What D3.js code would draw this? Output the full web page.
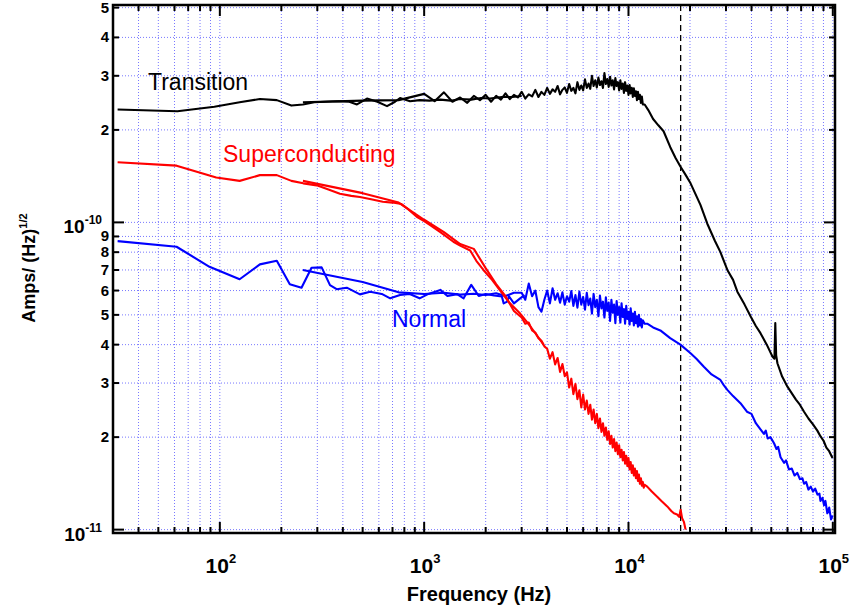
<!DOCTYPE html>
<html>
<head>
<meta charset="utf-8">
<script src="https://cdn.jsdelivr.net/npm/d3@7"></script>
<style>
  body { margin: 0; background: #fff; }
  text { font-family: "Liberation Sans", Arial, sans-serif; }
</style>
</head>
<body>
<svg id="chart" width="851" height="611"></svg>
<script>
// amplitude noise spectra, [frequency Hz, amplitude in 1e-10 A/rtHz]
var transitionLow = [[31.6,2.33],[62,2.30],[94,2.38],[125,2.46],[157,2.52],[190,2.50],[224,2.40],[255,2.42],
  [290,2.46],[330,2.47],[380,2.48],[430,2.47],[469,2.42],[525,2.53],[590,2.47],[658,2.39],[720,2.47],[762,2.54],
  [853,2.48],[950,2.50],[1060,2.49],[1200,2.51],[1350,2.49],[1500,2.52],[1700,2.51],[1900,2.54],[2100,2.53],
  [2400,2.56],[2700,2.56],[3000,2.58]];

var transitionHigh = [[255,2.46],[500,2.49],[750,2.50],[1000,2.62],[1125,2.48],[1250,2.65],[1375,2.47],[1500,2.55],
  [1625,2.45],[1750,2.58],[1875,2.50],[2000,2.60],[2125,2.47],[2250,2.58],[2375,2.51],
  [2500,2.63],[2625,2.52],[2750,2.60],[2875,2.55],[3000,2.66],[3125,2.53],[3250,2.61],[3375,2.57],[3500,2.70],
  [3625,2.56],[3750,2.66],[3875,2.60],
  [4000,2.74],[4125,2.62],[4250,2.71],[4375,2.66],[4500,2.78],[4625,2.61],[4750,2.70],[4875,2.75],[5000,2.64],
  [5125,2.82],[5250,2.68],[5375,2.74],[5500,2.63],[5625,2.86],[5750,2.70],[5875,2.79],[6000,2.69],[6125,2.92],
  [6250,2.74],[6375,2.83],[6500,2.72],[6625,3.00],[6750,2.78],[6875,2.90],[7000,2.75],[7125,2.96],[7250,2.80],
  [7375,2.88],[7500,2.74],[7625,3.06],[7750,2.82],[7875,2.93],[8000,2.76],[8125,2.98],[8250,2.79],[8375,2.90],
  [8500,2.71],[8625,2.95],[8750,2.78],[8875,2.86],[9000,2.69],[9125,2.90],[9250,2.72],[9375,2.83],[9500,2.64],
  [9625,2.86],[9750,2.68],[9875,2.79],[10000,2.60],[10125,2.80],[10250,2.63],[10375,2.74],[10500,2.56],
  [10625,2.73],[10750,2.58],[10875,2.67],[11000,2.50],[11125,2.66],[11250,2.52],[11375,2.60],[11500,2.45],
  [11625,2.57],[11750,2.42],
  [12000,2.42],[12500,2.32],[13200,2.17],[14000,2.07],[14850,1.98],[16000,1.76],
  [17000,1.62],[17950,1.52],[19000,1.43],[20130,1.34],[22500,1.14],[24310,0.99],[26500,0.87],[28180,0.80],
  [30470,0.70],[32500,0.65],[34110,0.595],[37000,0.54],[39630,0.494],[42000,0.46],[44260,0.436],[47500,0.40],
  [50640,0.366],[51800,0.36],[52300,0.47],[52800,0.37],[53570,0.348],[56500,0.315],[59970,0.292],[66000,0.265],
  [69000,0.255],[72320,0.242],[76000,0.23],[80000,0.22],[84000,0.21],[87100,0.201],[90000,0.195],[93000,0.185],
  [96000,0.180],[99650,0.171]];

var superLow = [[31.6,1.57],[61.4,1.53],[96,1.40],[125,1.365],[157,1.425],[190,1.425],[224,1.365],[256,1.34],
  [298,1.32],[340,1.28],[387,1.24],[440,1.22],[485,1.21],[550,1.19],[627,1.167],[700,1.16],[774,1.147],[840,1.10],
  [920,1.043],[1000,1.01],[1070,0.98],[1200,0.93],[1390,0.865],[1500,0.84],[1680,0.81],[1800,0.75],[1950,0.70],
  [2150,0.65],[2355,0.60],[2600,0.55],[2950,0.505],[3300,0.46],[3840,0.40]];

var superHigh = [[255,1.365],[500,1.245],[750,1.16],[1000,1.02],[1250,0.93],[1500,0.85],[1750,0.82],
  [2000,0.71],[2250,0.63],[2500,0.575],[2750,0.515],[3000,0.49],[3125,0.468],[3250,0.472],[3375,0.445],
  [3500,0.438],[3625,0.420],[3750,0.412],[3875,0.395],[4000,0.388],[4125,0.360],[4250,0.378],[4375,0.345],
  [4500,0.362],[4625,0.326],[4750,0.346],[4875,0.316],[5000,0.325],[5125,0.290],[5250,0.310],[5375,0.276],
  [5500,0.298],[5625,0.266],[5750,0.284],[5875,0.250],[6000,0.275],[6125,0.246],[6250,0.263],[6375,0.238],
  [6500,0.255],[6625,0.228],[6750,0.246],[6875,0.222],[7000,0.238],[7125,0.214],[7250,0.230],[7375,0.208],
  [7500,0.222],[7625,0.202],[7750,0.215],[7875,0.196],[8000,0.209],[8125,0.190],[8250,0.202],[8375,0.185],
  [8500,0.197],[8625,0.180],[8750,0.192],[8875,0.176],[9000,0.188],[9125,0.172],[9250,0.182],[9375,0.168],
  [9500,0.179],[9625,0.164],[9750,0.174],[9875,0.161],[10000,0.171],[10125,0.157],[10250,0.166],[10375,0.153],
  [10500,0.162],[10625,0.150],[10750,0.158],[10875,0.147],[11000,0.155],[11125,0.144],[11250,0.151],
  [11375,0.141],[11500,0.147],[11625,0.139],[11750,0.143],[11875,0.137],[12000,0.140],
  [12350,0.138],[13000,0.133],[13820,0.128],[14500,0.124],[15480,0.119],[16200,0.115],[16680,0.113],
  [17300,0.112],[17700,0.110],[18000,0.116],[18300,0.109],[18670,0.106],[19030,0.100]];

var normalLow = [[31.6,0.869],[61.4,0.833],[89,0.717],[125,0.653],[157,0.730],[190,0.750],[220,0.629],[251,0.613],
  [281,0.712],[315,0.714],[346,0.625],[373,0.606],[418,0.613],[485,0.583],[544,0.595],[620,0.585],[682,0.566],
  [762,0.580],[850,0.585],[950,0.566],[1050,0.585],[1200,0.603],[1300,0.576],[1450,0.584],[1560,0.566],[1700,0.626],
  [1850,0.576],[2000,0.585],[2200,0.578],[2400,0.574],[2450,0.545],[2550,0.552],[2600,0.575],[2750,0.545],
  [2950,0.566],[3100,0.58]];

var normalHigh = [[255,0.700],[500,0.640],[750,0.592],[1000,0.585],[1250,0.590],[1500,0.582],[1750,0.586],
  [2000,0.580],[2250,0.588],[2500,0.576],[2750,0.590],
  [3000,0.590],[3125,0.560],[3250,0.632],[3375,0.575],[3500,0.600],[3625,0.530],[3750,0.512],[3875,0.560],
  [4000,0.600],[4125,0.545],[4250,0.610],[4375,0.560],[4500,0.588],[4625,0.548],[4750,0.592],[4875,0.540],
  [5000,0.575],[5125,0.552],[5250,0.598],[5375,0.535],[5500,0.580],[5625,0.528],[5750,0.595],[5875,0.540],
  [6000,0.572],[6125,0.520],[6250,0.590],[6375,0.538],[6500,0.565],[6625,0.505],[6750,0.585],[6875,0.530],
  [7000,0.560],[7125,0.495],[7250,0.578],[7375,0.525],[7500,0.552],[7625,0.490],[7750,0.570],[7875,0.515],
  [8000,0.548],[8125,0.478],[8250,0.560],[8375,0.508],[8500,0.540],[8625,0.470],[8750,0.555],[8875,0.500],
  [9000,0.530],[9125,0.472],[9250,0.545],[9375,0.492],[9500,0.522],[9625,0.468],[9750,0.535],[9875,0.485],
  [10000,0.512],[10125,0.465],[10250,0.525],[10375,0.478],[10500,0.505],[10625,0.462],[10750,0.512],
  [10875,0.470],[11000,0.495],[11125,0.458],[11250,0.500],[11375,0.462],[11500,0.485],[11625,0.455],
  [11750,0.480],[12000,0.468],
  [12350,0.468],[13200,0.455],[14320,0.445],[16000,0.42],[17950,0.40],[20130,0.375],[21500,0.360],
  [23380,0.339],[25500,0.320],[28180,0.307],[29200,0.296],[30470,0.285],[32500,0.272],[35320,0.258],[38000,0.242],
  [40000,0.238],[42000,0.222],[44260,0.212],[46000,0.205],[47000,0.210],[48000,0.198],[49500,0.200],
  [51570,0.191],[53000,0.183],[54000,0.186],[55500,0.172],[57710,0.165],[59000,0.168],[61000,0.157],
  [63000,0.158],[65000,0.150],[67000,0.153],[69000,0.146],[71000,0.147],[72320,0.141],[74000,0.143],
  [76000,0.135],[78000,0.138],[80000,0.133],[82000,0.136],[84140,0.130],[86000,0.131],[87000,0.124],
  [89000,0.127],[90610,0.120],[92000,0.124],[94000,0.113],[96000,0.118],[98000,0.108],[99650,0.111]];

var xLabelTicks = [1e2, 1e3, 1e4, 1e5];
var yDecadeTicks = [1e-11, 1e-10];
var cutoffFreq = 1.8e4;
var unit = 1e-10;

var series = [
  { name: 'Normal', color: '#0000ff', parts: [normalLow, normalHigh], label: [392, 327] },
  { name: 'Superconducting', color: '#ff0000', parts: [superLow, superHigh], label: [223, 162] },
  { name: 'Transition', color: '#000000', parts: [transitionLow, transitionHigh], label: [148, 90] }
];

var pL = 113, pR = 835, pT = 5, pB = 533;
var svg = d3.select('#chart');

var x = d3.scaleLog().domain([30, 1.025e5]).range([pL, pR]);
var y = d3.scaleLog().domain([9.75e-12, 5.1e-10]).range([pB, pT]);

svg.append('clipPath').attr('id', 'clip')
  .append('rect').attr('x', pL).attr('y', pT)
  .attr('width', pR - pL).attr('height', pB - pT);

var xt = x.ticks(), yt = y.ticks();

// grid
var grid = svg.append('g')
  .attr('stroke', '#6a6aff').attr('stroke-width', 1)
  .attr('stroke-dasharray', '1,2').attr('opacity', 0.9);
grid.selectAll('.gx').data(xt).enter().append('line')
  .attr('x1', d => x(d)).attr('x2', d => x(d)).attr('y1', pT).attr('y2', pB);
grid.selectAll('.gy').data(yt).enter().append('line')
  .attr('y1', d => y(d)).attr('y2', d => y(d)).attr('x1', pL).attr('x2', pR);

// cutoff line
svg.append('line')
  .attr('x1', x(cutoffFreq)).attr('x2', x(cutoffFreq))
  .attr('y1', pT).attr('y2', pB)
  .attr('stroke', '#000').attr('stroke-width', 1.3)
  .attr('stroke-dasharray', '6,4');

var line = d3.line().x(d => x(d[0])).y(d => y(d[1] * unit));

var plot = svg.append('g').attr('clip-path', 'url(#clip)');
series.forEach(function(s) {
  s.parts.forEach(function(p) {
    plot.append('path').datum(p)
      .attr('d', line)
      .attr('fill', 'none')
      .attr('stroke', s.color)
      .attr('stroke-width', 2.1)
      .attr('stroke-linejoin', 'round');
  });
  svg.append('text')
    .attr('x', s.label[0]).attr('y', s.label[1])
    .attr('font-size', 23).attr('fill', s.color)
    .text(s.name);
});

// ticks on all four sides
function isDecade(v) {
  var l = Math.log10(v);
  return Math.abs(l - Math.round(l)) < 1e-6;
}
var ticks = svg.append('g').attr('stroke', '#000').attr('stroke-width', 2);
xt.forEach(function(d) {
  var len = isDecade(d) ? 11 : 6;
  ticks.append('line').attr('x1', x(d)).attr('x2', x(d)).attr('y1', pB).attr('y2', pB - len);
  ticks.append('line').attr('x1', x(d)).attr('x2', x(d)).attr('y1', pT).attr('y2', pT + len);
});
yt.forEach(function(d) {
  var len = isDecade(d) ? 11 : 6;
  ticks.append('line').attr('y1', y(d)).attr('y2', y(d)).attr('x1', pL).attr('x2', pL + len);
  ticks.append('line').attr('y1', y(d)).attr('y2', y(d)).attr('x1', pR).attr('x2', pR - len);
});

svg.append('rect')
  .attr('x', pL).attr('y', pT)
  .attr('width', pR - pL).attr('height', pB - pT)
  .attr('fill', 'none').attr('stroke', '#000').attr('stroke-width', 2.5);

// y tick labels
yt.filter(d => !isDecade(d)).forEach(function(d) {
  svg.append('text')
    .attr('x', 109).attr('y', y(d) + 5)
    .attr('text-anchor', 'end')
    .attr('font-size', 15).attr('font-weight', 'bold')
    .text(Math.round(d / Math.pow(10, Math.floor(Math.log10(d) + 1e-9))));
});
yDecadeTicks.forEach(function(d) {
  var t = svg.append('text')
    .attr('x', 102).attr('y', y(d) + 11)
    .attr('text-anchor', 'end')
    .attr('font-weight', 'bold');
  t.append('tspan').attr('font-size', 19).text('10');
  t.append('tspan').attr('font-size', 12).attr('dy', -9).text(String(Math.round(Math.log10(d))));
});

// x tick labels
xLabelTicks.forEach(function(d) {
  var t = svg.append('text')
    .attr('x', x(d) + 1).attr('y', 573)
    .attr('text-anchor', 'middle')
    .attr('font-weight', 'bold');
  t.append('tspan').attr('font-size', 21).text('10');
  t.append('tspan').attr('font-size', 13).attr('dy', -10).text(String(Math.round(Math.log10(d))));
});

// axis titles
svg.append('text')
  .attr('x', 479).attr('y', 601)
  .attr('text-anchor', 'middle')
  .attr('font-size', 20).attr('font-weight', 'bold')
  .text('Frequency (Hz)');

var yTitle = svg.append('text')
  .attr('transform', 'translate(35,268) rotate(-90)')
  .attr('text-anchor', 'middle')
  .attr('font-weight', 'bold');
yTitle.append('tspan').attr('font-size', 18).text('Amps/ (Hz)');
yTitle.append('tspan').attr('font-size', 11).attr('dy', -8).text('1/2');
</script>
</body>
</html>
